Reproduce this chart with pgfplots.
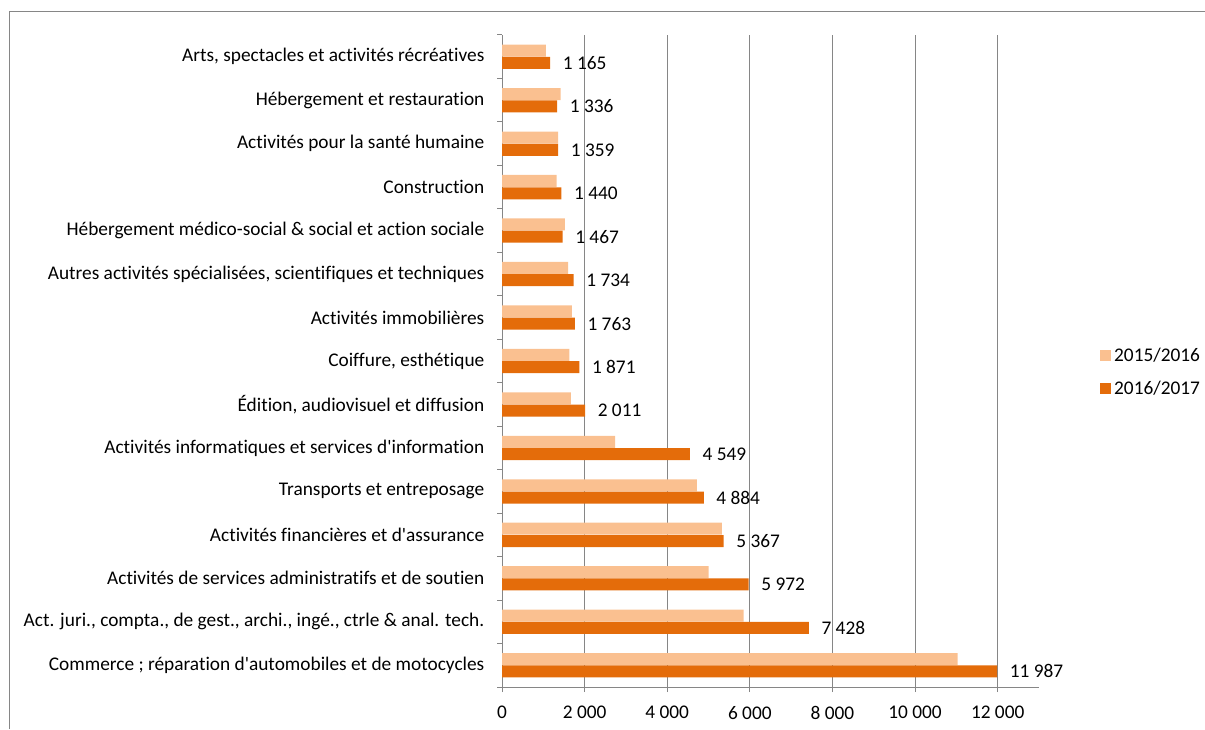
\documentclass[border=0pt]{standalone}
\usepackage{fontspec}
\setmainfont{Carlito}[Ligatures={NoCommon}]
\usepackage{pgfplots}
\pgfplotsset{compat=1.18}
\definecolor{lightor}{RGB}{250,192,144}
\definecolor{darkor}{RGB}{228,108,10}
\definecolor{gridgray}{RGB}{134,134,134}
\begin{document}
\begin{tikzpicture}[font=\fontsize{14.5}{16}\selectfont]
\useasboundingbox (0,0) rectangle (903.75pt,546.75pt);
\draw[gridgray, line width=0.75pt] (6.75pt,0) -- (6.75pt,537.75pt) -- (903.75pt,537.75pt);
\begin{axis}[
  at={(376.5pt,31.5pt)}, anchor=south west,
  scale only axis, width=402.75pt, height=489pt,
  xbar, bar width=9pt,
  xmin=0, xmax=13000, ymin=-0.5, ymax=14.5,
  axis x line*=bottom, axis y line*=left,
  axis line style={gridgray, line width=0.75pt, -},
  tick style={gridgray, line width=0.75pt},
  tick align=outside, major tick length=3.75pt,
  xtick={0,2000,...,12000},
  scaled x ticks=false,
  xticklabel style={yshift=-7pt},
  xmajorgrids, major grid style={gridgray, line width=0.75pt},
  ytick={-0.5,0.5,...,13.5},
  extra y ticks={14.5}, extra y tick labels={},
  yticklabel style={yshift=16.3pt, xshift=-6pt, anchor=east},
  yticklabels={{Commerce ; réparation d\textquotesingle automobiles et de motocycles},
    {Act. juri., compta., de gest., archi., ingé., ctrle \& anal. tech.},
    {Activités de services administratifs et de soutien},
    {Activités financières et d\textquotesingle assurance},
    {Transports et entreposage},
    {Activités informatiques et services d\textquotesingle information},
    {Édition, audiovisuel et diffusion},
    {Coiffure, esthétique},
    {Activités immobilières},
    {Autres activités spécialisées, scientifiques et techniques},
    {Hébergement médico-social \& social et action sociale},
    {Construction},
    {Activités pour la santé humaine},
    {Hébergement et restauration},
    {Arts, spectacles et activités récréatives}},
  /pgf/number format/.cd, fixed, precision=0, 1000 sep={\ }, assume math mode=true,
  /pgfplots/.cd,
  legend style={at={(1.114,0.483)}, anchor=west, draw=none, fill=none,
    row sep=9pt, inner sep=0pt, font=\fontsize{14.5}{16}\selectfont},
  legend cell align=left,
  legend image code/.code={\fill[#1, draw=none] (0pt,-4.1pt) rectangle (8.25pt,4.1pt);},
]
\addplot[fill=lightor, draw=none, bar shift=4.6pt] coordinates {
  (11030,0) (5850,1) (5000,2) (5320,3) (4720,4) (2740,5) (1670,6) (1630,7)
  (1690,8) (1600,9) (1520,10) (1320,11) (1360,12) (1420,13) (1060,14)};
\addplot[fill=darkor, draw=none, bar shift=-4.6pt, point meta=x,
  nodes near coords, nodes near coords style={anchor=west, xshift=6pt, text=black,
   /pgf/number format/.cd, fixed, precision=0, 1000 sep={\ }, assume math mode=true}] coordinates {
  (11987,0) (7428,1) (5972,2) (5367,3) (4884,4) (4549,5) (2011,6) (1871,7)
  (1763,8) (1734,9) (1467,10) (1440,11) (1359,12) (1336,13) (1165,14)};
\legend{2015/2016, 2016/2017}
\end{axis}
\end{tikzpicture}
\end{document}
